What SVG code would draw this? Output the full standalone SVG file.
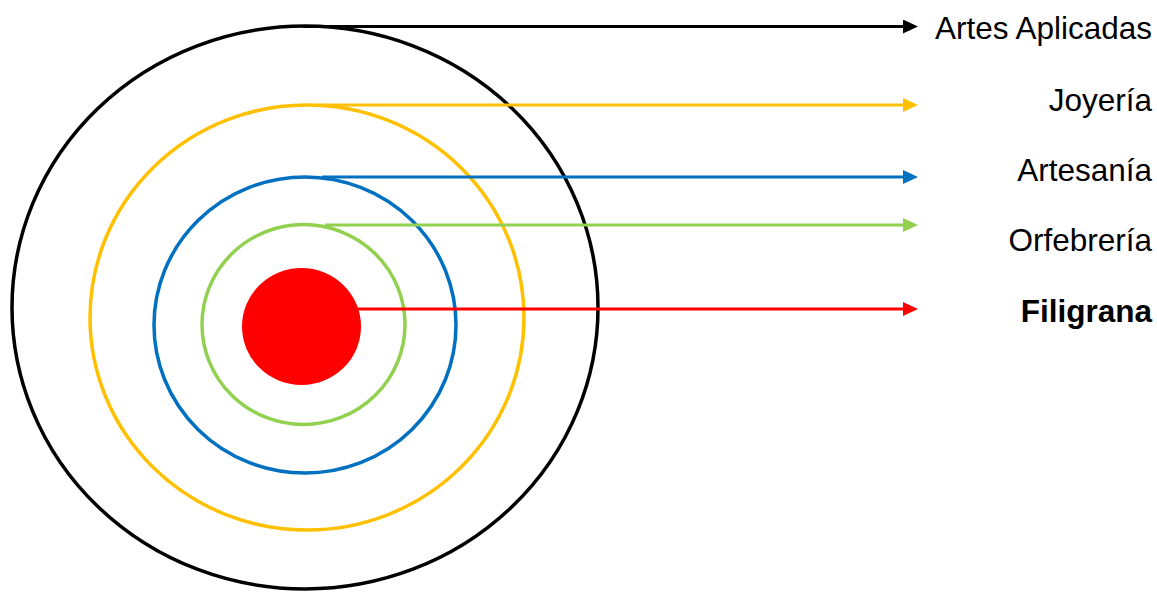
<svg xmlns="http://www.w3.org/2000/svg" width="1157" height="592" viewBox="0 0 1157 592">
<style>
.ring{fill:none;stroke-width:3.5}
.lbl{font-family:"Liberation Sans",Arial,sans-serif;font-size:31.5px;fill:#000;text-anchor:end}
.conn{stroke-width:3;fill:none}
</style>
<defs>
<marker id="mk" markerUnits="userSpaceOnUse" markerWidth="15" markerHeight="14" refX="0" refY="7" orient="auto"><path d="M0,0 L15,7 L0,14 z" fill="#000"/></marker>
<marker id="my" markerUnits="userSpaceOnUse" markerWidth="15" markerHeight="14" refX="0" refY="7" orient="auto"><path d="M0,0 L15,7 L0,14 z" fill="#FFC000"/></marker>
<marker id="mb" markerUnits="userSpaceOnUse" markerWidth="15" markerHeight="14" refX="0" refY="7" orient="auto"><path d="M0,0 L15,7 L0,14 z" fill="#0070C0"/></marker>
<marker id="mg" markerUnits="userSpaceOnUse" markerWidth="15" markerHeight="14" refX="0" refY="7" orient="auto"><path d="M0,0 L15,7 L0,14 z" fill="#92D050"/></marker>
<marker id="mr" markerUnits="userSpaceOnUse" markerWidth="15" markerHeight="14" refX="0" refY="7" orient="auto"><path d="M0,0 L15,7 L0,14 z" fill="#FF0000"/></marker>
</defs>
<rect width="1157" height="592" fill="#fff"/>
<g id="artes-aplicadas">
<ellipse class="ring" cx="305" cy="307.5" rx="293" ry="281.5" stroke="#000" stroke-width="4"/>
<text class="lbl" x="1152" y="39">Artes Aplicadas</text>
</g>
<g id="joyeria">
<ellipse class="ring" cx="307" cy="317.5" rx="217" ry="212.5" stroke="#FFC000"/>
<text class="lbl" x="1152" y="111">Joyería</text>
</g>
<g id="artesania">
<ellipse class="ring" cx="305" cy="325" rx="151" ry="148" stroke="#0070C0"/>
<text class="lbl" x="1152" y="181">Artesanía</text>
</g>
<g id="orfebreria">
<ellipse class="ring" cx="303.5" cy="324.5" rx="101.5" ry="100" stroke="#92D050"/>
<text class="lbl" x="1152" y="251">Orfebrería</text>
</g>
<g id="filigrana">
<ellipse cx="301.5" cy="326.5" rx="59.5" ry="58.5" fill="#FF0000"/>
<text class="lbl" x="1152" y="322" font-weight="bold">Filigrana</text>
</g>
<g id="connectors">
<line class="conn" x1="303" y1="26.5" x2="903" y2="26.5" stroke="#000" marker-end="url(#mk)"/>
<line class="conn" x1="318" y1="105" x2="903" y2="105" stroke="#FFC000" marker-end="url(#my)"/>
<line class="conn" x1="322" y1="177" x2="903" y2="177" stroke="#0070C0" marker-end="url(#mb)"/>
<line class="conn" x1="325" y1="225" x2="903" y2="225" stroke="#92D050" marker-end="url(#mg)"/>
<line class="conn" x1="357" y1="309" x2="903" y2="309" stroke="#FF0000" marker-end="url(#mr)"/>
</g>
</svg>
